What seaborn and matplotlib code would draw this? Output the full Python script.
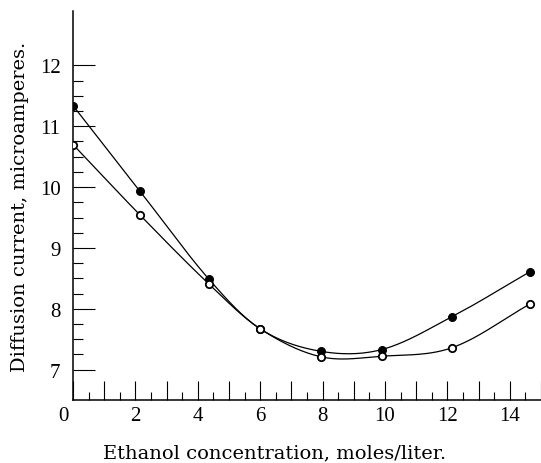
import numpy as np
import pandas as pd
import matplotlib
matplotlib.use("Agg")
import matplotlib.pyplot as plt
import seaborn as sns
from matplotlib.transforms import ScaledTranslation

# ---- data ----
ethanol = [0.0, 2.15, 4.35, 6.0, 7.95, 9.9, 12.15, 14.65]
current_filled = [11.34, 9.93, 8.49, 7.67, 7.30, 7.33, 7.87, 8.61]
current_open = [10.70, 9.54, 8.41, 7.67, 7.21, 7.22, 7.36, 8.08]
x_tick_labels = ["0", "2", "4", "6", "8", "10", "12", "14"]
y_tick_labels = ["7", "8", "9", "10", "11", "12"]
x_label = "Ethanol concentration, moles/liter."
y_label = "Diffusion current, microamperes."


def smooth_path(x, y, n=40):
    """Catmull-Rom style cubic Hermite path through the measured points."""
    x = np.asarray(x, float)
    y = np.asarray(y, float)
    k = len(x)
    m = np.zeros(k)
    m[1:-1] = (y[2:] - y[:-2]) / (x[2:] - x[:-2])
    m[0] = (y[1] - y[0]) / (x[1] - x[0])
    m[-1] = (y[-1] - y[-2]) / (x[-1] - x[-2])
    xs_all, ys_all = [], []
    for i in range(k - 1):
        h = x[i + 1] - x[i]
        t = np.linspace(0, 1, n, endpoint=(i == k - 2))
        h00 = 2 * t**3 - 3 * t**2 + 1
        h10 = t**3 - 2 * t**2 + t
        h01 = -2 * t**3 + 3 * t**2
        h11 = t**3 - t**2
        xs_all.append(x[i] + t * h)
        ys_all.append(h00 * y[i] + h10 * h * m[i] + h01 * y[i + 1] + h11 * h * m[i + 1])
    return np.concatenate(xs_all), np.concatenate(ys_all)


sns.set_theme(style="ticks")
plt.rcParams["font.family"] = ["DejaVu Serif"]

fig = plt.figure(figsize=(5.41, 4.64), dpi=100)
ax = fig.add_axes([73 / 541, 1 - 401 / 464, 468 / 541, 389.3 / 464])

for ys in (current_filled, current_open):
    cx, cy = smooth_path(ethanol, ys)
    sns.lineplot(x=cx, y=cy, ax=ax, color="black", lw=0.9, sort=False,
                 estimator=None)

pts = pd.DataFrame({"x": ethanol, "filled": current_filled, "open": current_open})
sns.scatterplot(data=pts, x="x", y="filled", ax=ax, s=32, color="black",
                edgecolor="black", linewidth=0.8, zorder=5)
sns.scatterplot(data=pts, x="x", y="open", ax=ax, s=28, color="white",
                edgecolor="black", linewidth=1.3, zorder=5)

ax.set_xlim(0, 15)
ax.set_ylim(6.5, 12.9)

xmaj = np.arange(0, 16, 1)
ax.set_xticks(xmaj)
lab = []
j = 0
for v in xmaj:
    if v % 2 == 0 and v <= 14:
        lab.append(x_tick_labels[j]); j += 1
    else:
        lab.append("")
ax.set_xticklabels(lab)
ax.set_xticks(np.arange(0.5, 15, 1), minor=True)

ax.set_yticks(np.arange(7, 13, 1))
ax.set_yticklabels(y_tick_labels)
yminor = [v for v in np.arange(7.25, 12, 0.25) if abs(v - round(v)) > 1e-6]
ax.set_yticks(yminor, minor=True)

ax.tick_params(axis="both", which="both", bottom=True, left=True, top=False,
               right=False)
ax.tick_params(axis="x", which="major", direction="in", length=14, width=0.8,
               pad=4, labelsize=15, colors="black")
ax.tick_params(axis="x", which="minor", direction="in", length=6, width=0.8,
               colors="black")
ax.tick_params(axis="y", which="major", direction="in", length=16, width=0.8,
               pad=9, labelsize=15, colors="black")
ax.tick_params(axis="y", which="minor", direction="in", length=7.5, width=0.8,
               colors="black")
for t in ax.get_xticklabels() + ax.get_yticklabels():
    t.set_fontfamily(["Liberation Serif"])

for s in ("top", "right"):
    ax.spines[s].set_visible(False)
for s in ("left", "bottom"):
    ax.spines[s].set_color("black")
    ax.spines[s].set_linewidth(1.1)

ax.set_xlabel("")
ax.set_ylabel("")
fig.text(275 / 541, 1 - 453 / 464, x_label, ha="center", va="center",
         fontsize=14, color="black")
fig.text(20 / 541, 1 - 207 / 464, y_label, ha="center", va="center",
         rotation=90, fontsize=14, color="black")

# first x tick label sits a little left of the axis in the reference
ax.get_xticklabels()[0].set_transform(
    ax.get_xticklabels()[0].get_transform()
    + ScaledTranslation(-10 / 100, 0, fig.dpi_scale_trans))

fig.savefig("out.png", dpi=100)
